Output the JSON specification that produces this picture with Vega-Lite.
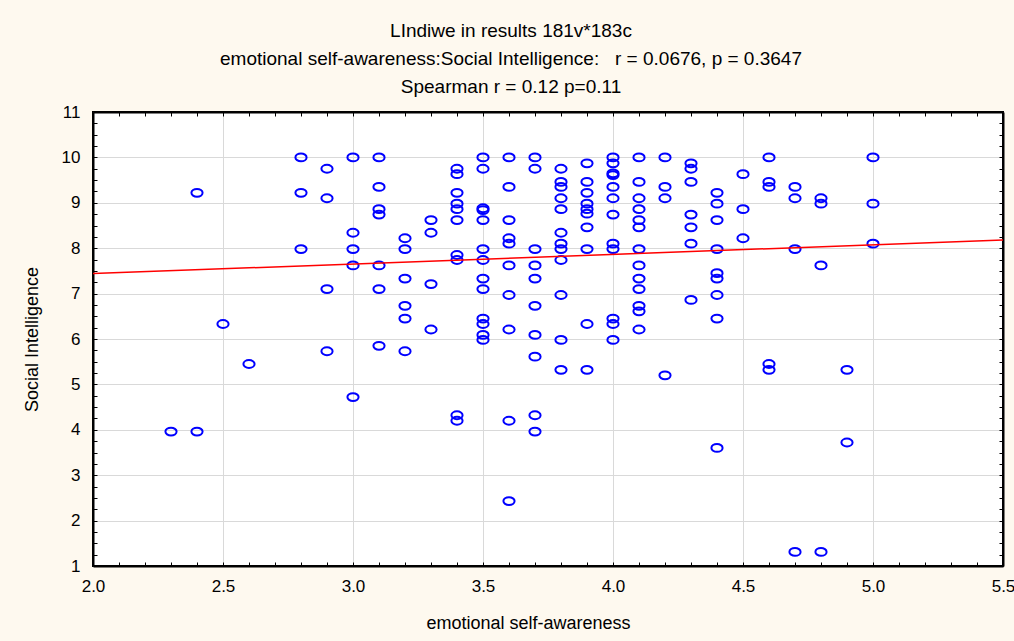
{
  "$schema": "https://vega.github.io/schema/vega-lite/v6.json",
  "width": 910,
  "height": 454,
  "autosize": {"type": "none"},
  "padding": {"left": 93, "top": 112, "right": 11, "bottom": 75},
  "background": "#FEF9EF",
  "config": {"view": {"fill": "white", "stroke": "black", "strokeWidth": 2}, "font": "Liberation Sans"},
  "title": {
    "text": ["LIndiwe in results 181v*183c", "emotional self-awareness:Social Intelligence:\u00a0\u00a0\u00a0r = 0.0676, p = 0.3647", "Spearman r = 0.12 p=0.11"],
    "fontSize": 19, "fontWeight": "normal", "font": "Liberation Sans", "lineHeight": 28,
    "anchor": "middle", "dx": -37, "offset": 6, "color": "black"
  },
  "resolve": {"axis": {"x": "independent", "y": "independent"}},
  "layer": [
    {
      "data": {"values": [
        {"esa": 2.3, "si": 3.96},
        {"esa": 2.4, "si": 9.22}, {"esa": 2.4, "si": 3.96},
        {"esa": 2.5, "si": 6.33},
        {"esa": 2.6, "si": 5.45},
        {"esa": 2.8, "si": 10.0}, {"esa": 2.8, "si": 9.22}, {"esa": 2.8, "si": 7.98},
        {"esa": 2.9, "si": 9.75}, {"esa": 2.9, "si": 9.10}, {"esa": 2.9, "si": 7.10}, {"esa": 2.9, "si": 5.73},
        {"esa": 3.0, "si": 10.0}, {"esa": 3.0, "si": 8.34}, {"esa": 3.0, "si": 7.98}, {"esa": 3.0, "si": 7.62}, {"esa": 3.0, "si": 4.72},
        {"esa": 3.1, "si": 10.0}, {"esa": 3.1, "si": 9.35}, {"esa": 3.1, "si": 8.86}, {"esa": 3.1, "si": 8.74}, {"esa": 3.1, "si": 7.62}, {"esa": 3.1, "si": 7.10}, {"esa": 3.1, "si": 5.85},
        {"esa": 3.2, "si": 8.22}, {"esa": 3.2, "si": 7.98}, {"esa": 3.2, "si": 7.33}, {"esa": 3.2, "si": 6.73}, {"esa": 3.2, "si": 6.45}, {"esa": 3.2, "si": 5.73},
        {"esa": 3.3, "si": 8.62}, {"esa": 3.3, "si": 8.34}, {"esa": 3.3, "si": 7.21}, {"esa": 3.3, "si": 6.21},
        {"esa": 3.4, "si": 9.75}, {"esa": 3.4, "si": 9.63}, {"esa": 3.4, "si": 9.22}, {"esa": 3.4, "si": 8.98}, {"esa": 3.4, "si": 8.86}, {"esa": 3.4, "si": 8.62}, {"esa": 3.4, "si": 7.85}, {"esa": 3.4, "si": 7.74}, {"esa": 3.4, "si": 4.32}, {"esa": 3.4, "si": 4.20},
        {"esa": 3.5, "si": 10.0}, {"esa": 3.5, "si": 9.75}, {"esa": 3.5, "si": 8.88}, {"esa": 3.5, "si": 8.84}, {"esa": 3.5, "si": 8.62}, {"esa": 3.5, "si": 7.98}, {"esa": 3.5, "si": 7.74}, {"esa": 3.5, "si": 7.33}, {"esa": 3.5, "si": 7.10}, {"esa": 3.5, "si": 6.45}, {"esa": 3.5, "si": 6.33}, {"esa": 3.5, "si": 6.09}, {"esa": 3.5, "si": 5.98},
        {"esa": 3.6, "si": 10.0}, {"esa": 3.6, "si": 9.35}, {"esa": 3.6, "si": 8.62}, {"esa": 3.6, "si": 8.22}, {"esa": 3.6, "si": 8.10}, {"esa": 3.6, "si": 7.62}, {"esa": 3.6, "si": 6.97}, {"esa": 3.6, "si": 6.21}, {"esa": 3.6, "si": 4.20}, {"esa": 3.6, "si": 2.43},
        {"esa": 3.7, "si": 10.0}, {"esa": 3.7, "si": 9.75}, {"esa": 3.7, "si": 7.98}, {"esa": 3.7, "si": 7.62}, {"esa": 3.7, "si": 7.33}, {"esa": 3.7, "si": 6.73}, {"esa": 3.7, "si": 6.09}, {"esa": 3.7, "si": 5.61}, {"esa": 3.7, "si": 4.32}, {"esa": 3.7, "si": 3.96},
        {"esa": 3.8, "si": 9.75}, {"esa": 3.8, "si": 9.46}, {"esa": 3.8, "si": 9.35}, {"esa": 3.8, "si": 9.10}, {"esa": 3.8, "si": 8.86}, {"esa": 3.8, "si": 8.34}, {"esa": 3.8, "si": 8.10}, {"esa": 3.8, "si": 7.98}, {"esa": 3.8, "si": 7.74}, {"esa": 3.8, "si": 6.97}, {"esa": 3.8, "si": 5.98}, {"esa": 3.8, "si": 5.32},
        {"esa": 3.9, "si": 9.87}, {"esa": 3.9, "si": 9.46}, {"esa": 3.9, "si": 9.22}, {"esa": 3.9, "si": 8.98}, {"esa": 3.9, "si": 8.86}, {"esa": 3.9, "si": 8.76}, {"esa": 3.9, "si": 8.46}, {"esa": 3.9, "si": 7.98}, {"esa": 3.9, "si": 6.33}, {"esa": 3.9, "si": 5.32},
        {"esa": 4.0, "si": 10.0}, {"esa": 4.0, "si": 9.87}, {"esa": 4.0, "si": 9.65}, {"esa": 4.0, "si": 9.61}, {"esa": 4.0, "si": 9.35}, {"esa": 4.0, "si": 9.10}, {"esa": 4.0, "si": 8.74}, {"esa": 4.0, "si": 8.10}, {"esa": 4.0, "si": 7.98}, {"esa": 4.0, "si": 6.45}, {"esa": 4.0, "si": 6.33}, {"esa": 4.0, "si": 5.98},
        {"esa": 4.1, "si": 10.0}, {"esa": 4.1, "si": 9.46}, {"esa": 4.1, "si": 9.10}, {"esa": 4.1, "si": 8.86}, {"esa": 4.1, "si": 8.62}, {"esa": 4.1, "si": 8.46}, {"esa": 4.1, "si": 7.98}, {"esa": 4.1, "si": 7.62}, {"esa": 4.1, "si": 7.33}, {"esa": 4.1, "si": 7.10}, {"esa": 4.1, "si": 6.73}, {"esa": 4.1, "si": 6.61}, {"esa": 4.1, "si": 6.21},
        {"esa": 4.2, "si": 10.0}, {"esa": 4.2, "si": 9.35}, {"esa": 4.2, "si": 9.10}, {"esa": 4.2, "si": 5.20},
        {"esa": 4.3, "si": 9.87}, {"esa": 4.3, "si": 9.75}, {"esa": 4.3, "si": 9.46}, {"esa": 4.3, "si": 8.74}, {"esa": 4.3, "si": 8.46}, {"esa": 4.3, "si": 8.10}, {"esa": 4.3, "si": 6.86},
        {"esa": 4.4, "si": 9.22}, {"esa": 4.4, "si": 8.98}, {"esa": 4.4, "si": 8.62}, {"esa": 4.4, "si": 7.98}, {"esa": 4.4, "si": 7.45}, {"esa": 4.4, "si": 7.33}, {"esa": 4.4, "si": 6.97}, {"esa": 4.4, "si": 6.45}, {"esa": 4.4, "si": 3.60},
        {"esa": 4.5, "si": 9.63}, {"esa": 4.5, "si": 8.86}, {"esa": 4.5, "si": 8.22},
        {"esa": 4.6, "si": 10.0}, {"esa": 4.6, "si": 9.46}, {"esa": 4.6, "si": 9.35}, {"esa": 4.6, "si": 5.45}, {"esa": 4.6, "si": 5.32},
        {"esa": 4.7, "si": 9.35}, {"esa": 4.7, "si": 9.10}, {"esa": 4.7, "si": 7.98}, {"esa": 4.7, "si": 1.31},
        {"esa": 4.8, "si": 9.10}, {"esa": 4.8, "si": 8.98}, {"esa": 4.8, "si": 7.62}, {"esa": 4.8, "si": 1.31},
        {"esa": 4.9, "si": 5.32}, {"esa": 4.9, "si": 3.72},
        {"esa": 5.0, "si": 10.0}, {"esa": 5.0, "si": 8.98}, {"esa": 5.0, "si": 8.10}
      ]},
      "mark": {"type": "point", "shape": "M-1,0A1,0.7,0,1,0,1,0A1,0.7,0,1,0,-1,0Z", "filled": false, "stroke": "#0000FF", "strokeWidth": 2, "size": 125, "opacity": 1},
      "encoding": {
        "x": {
          "field": "esa", "type": "quantitative",
          "scale": {"domain": [2, 5.5], "nice": false, "zero": false},
          "axis": {
            "orient": "bottom",
            "values": [2, 2.1, 2.2, 2.3, 2.4, 2.5, 2.6, 2.7, 2.8, 2.9, 3, 3.1, 3.2, 3.3, 3.4, 3.5, 3.6, 3.7, 3.8, 3.9, 4, 4.1, 4.2, 4.3, 4.4, 4.5, 4.6, 4.7, 4.8, 4.9, 5, 5.1, 5.2, 5.3, 5.4, 5.5],
            "labelExpr": "round(datum.value*10) % 5 == 0 ? format(datum.value, '.1f') : ''",
            "labelFontSize": 17, "labelColor": "black", "labelPadding": 16, "labelFlush": false, "labelOverlap": false,
            "tickSize": -4, "tickColor": "black", "tickWidth": 1,
            "domainColor": "black", "domainWidth": 2,
            "grid": true, "gridColor": "#D9D9D9", "gridWidth": 1,
            "gridOpacity": {"condition": {"test": "round(datum.value*10) % 5 == 0", "value": 1}, "value": 0},
            "title": "emotional self-awareness", "titleFontSize": 18, "titleFontWeight": "normal", "titleColor": "black", "titlePadding": 20, "titleX": 435
          }
        },
        "y": {
          "field": "si", "type": "quantitative",
          "scale": {"domain": [1, 11], "nice": false, "zero": false},
          "axis": {
            "orient": "left",
            "values": [1, 1.25, 1.5, 1.75, 2, 2.25, 2.5, 2.75, 3, 3.25, 3.5, 3.75, 4, 4.25, 4.5, 4.75, 5, 5.25, 5.5, 5.75, 6, 6.25, 6.5, 6.75, 7, 7.25, 7.5, 7.75, 8, 8.25, 8.5, 8.75, 9, 9.25, 9.5, 9.75, 10, 10.25, 10.5, 10.75, 11],
            "labelExpr": "datum.value % 1 == 0 ? format(datum.value, 'd') : ''",
            "labelFontSize": 17, "labelColor": "black", "labelPadding": 17, "labelOverlap": false, "labelFlush": false,
            "tickSize": -4, "tickColor": "black", "tickWidth": 1,
            "domainColor": "black", "domainWidth": 2,
            "grid": true, "gridColor": "#D9D9D9", "gridWidth": 1,
            "gridOpacity": {"condition": {"test": "datum.value % 1 == 0", "value": 1}, "value": 0},
            "title": "Social Intelligence", "titleFontSize": 18, "titleFontWeight": "normal", "titleColor": "black", "titlePadding": 20
          }
        }
      }
    },
    {
      "data": {"values": [
        {"esa": 2.0, "si": 7.44},
        {"esa": 5.5, "si": 8.18}
      ]},
      "mark": {"type": "line", "color": "#FF0000", "strokeWidth": 1.5},
      "encoding": {
        "x": {
          "field": "esa", "type": "quantitative",
          "scale": {"domain": [2, 5.5], "nice": false, "zero": false},
          "axis": {
            "orient": "top", "title": null, "labels": false, "grid": false,
            "values": [2, 2.1, 2.2, 2.3, 2.4, 2.5, 2.6, 2.7, 2.8, 2.9, 3, 3.1, 3.2, 3.3, 3.4, 3.5, 3.6, 3.7, 3.8, 3.9, 4, 4.1, 4.2, 4.3, 4.4, 4.5, 4.6, 4.7, 4.8, 4.9, 5, 5.1, 5.2, 5.3, 5.4, 5.5],
            "tickSize": -4, "tickColor": "black", "tickWidth": 1,
            "domainColor": "black", "domainWidth": 2
          }
        },
        "y": {
          "field": "si", "type": "quantitative",
          "scale": {"domain": [1, 11], "nice": false, "zero": false},
          "axis": {
            "orient": "right", "title": null, "labels": false, "grid": false,
            "values": [1, 1.25, 1.5, 1.75, 2, 2.25, 2.5, 2.75, 3, 3.25, 3.5, 3.75, 4, 4.25, 4.5, 4.75, 5, 5.25, 5.5, 5.75, 6, 6.25, 6.5, 6.75, 7, 7.25, 7.5, 7.75, 8, 8.25, 8.5, 8.75, 9, 9.25, 9.5, 9.75, 10, 10.25, 10.5, 10.75, 11],
            "tickSize": -4, "tickColor": "black", "tickWidth": 1,
            "domainColor": "black", "domainWidth": 2
          }
        }
      }
    }
  ]
}
